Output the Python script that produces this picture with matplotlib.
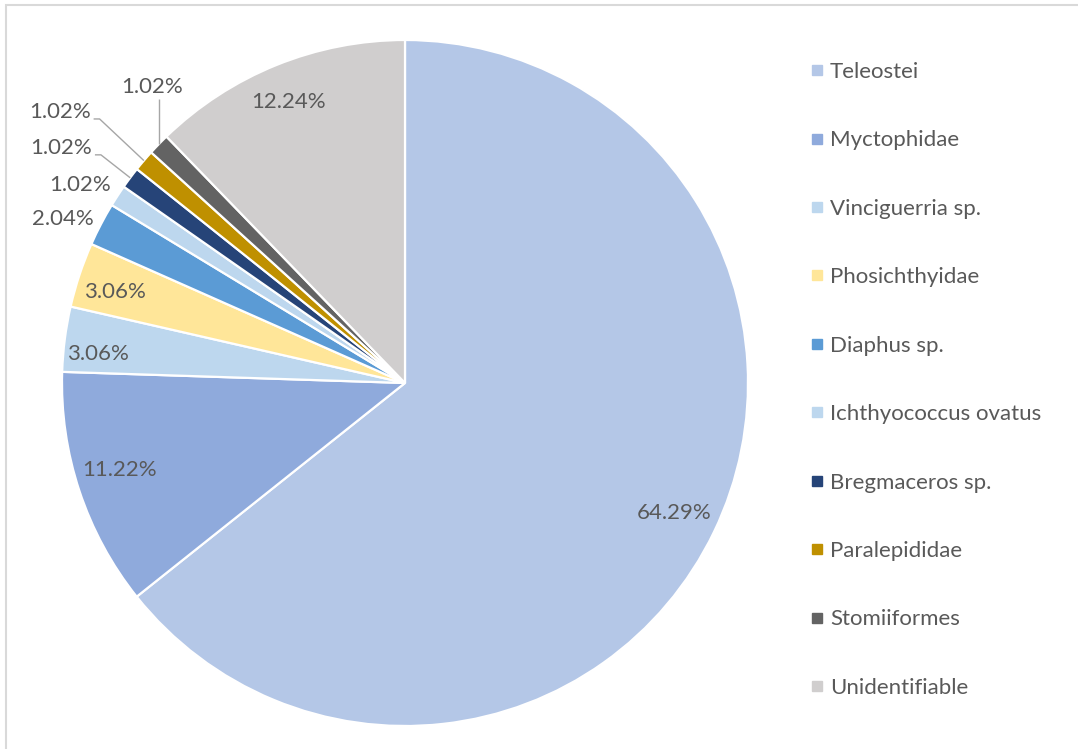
import numpy as np
import matplotlib
matplotlib.use("Agg")
import matplotlib.pyplot as plt
from matplotlib.lines import Line2D
from matplotlib.patches import Rectangle

# prey categories and their share of the diet (%)
taxa = ["Teleostei", "Myctophidae", "Vinciguerria sp.", "Phosichthyidae",
        "Diaphus sp.", "Ichthyococcus ovatus", "Bregmaceros sp.",
        "Paralepididae", "Stomiiformes", "Unidentifiable"]
shares = [64.29, 11.22, 3.06, 3.06, 2.04, 1.02, 1.02, 1.02, 1.02, 12.24]
colors = ["#B4C7E7", "#8FAADC", "#BDD7EE", "#FFE699", "#5B9BD5",
          "#BDD7EE", "#264478", "#BF9000", "#636363", "#D0CECE"]

TXT = "#595959"
FS = 16
plt.rcParams['font.family'] = ['Lato', 'DejaVu Sans']

W, H = 1078, 749
cx, cy, R = 405, 383, 343  # pie centre and radius in pixels

fig = plt.figure(figsize=(W / 100, H / 100), dpi=100)
ax = fig.add_axes([0, 0, 1, 1])

wedges, _ = ax.pie(shares, colors=colors, startangle=90, counterclock=False,
                   wedgeprops=dict(edgecolor="white", linewidth=1.6))
ax.set_xlim(-cx / R, (W - cx) / R)
ax.set_ylim(-(H - cy) / R, cy / R)
ax.axis("off")

px = 1.0 / R  # one pixel in data units

# label placement: (radius, angle shift in degrees, leader type or None)
placement = [
    (0.87, 0, None), (0.87, -1.4, None), (0.90, 2, None), (0.885, 1, None),
    (1.105, 2, None), (1.11, 1.8, None),
    (1.215, 2.4, "h"), (1.28, 2.3, "h"), (1.135, -5.4, "v"),
    (0.887, 0.5, None),
]

for w, val, (r, shift, lead) in zip(wedges, shares, placement):
    mid = np.deg2rad((w.theta1 + w.theta2) / 2)
    ang = mid + np.deg2rad(shift)
    tx, ty = r * np.cos(ang), r * np.sin(ang)
    ax.text(tx, ty, f"{val:.2f}%", ha="center", va="center",
            fontsize=FS, color=TXT)
    if lead is None:
        continue
    ex, ey = np.cos(mid), np.sin(mid)
    if lead == "h":
        ly = ty - 7 * px
        x0 = tx + 34 * px
        xs = [x0, x0 + 6 * px, ex]
        ys = [ly, ly, ey]
    else:
        xs = [ex, ex]
        ys = [ty - 12 * px, ey]
    ax.plot(xs, ys, color="#A6A6A6", lw=1.0, solid_capstyle="butt")

handles = [Line2D([], [], marker="s", linestyle="", markersize=6.5,
                  markerfacecolor=c, markeredgecolor=c) for c in colors]
leg = fig.legend(handles, taxa, loc="upper left",
                 bbox_to_anchor=(800 / W, 1 - 53 / H), frameon=False,
                 fontsize=FS, labelspacing=2.18, handlelength=0.7,
                 handletextpad=0.25, borderaxespad=0)
for t in leg.get_texts():
    t.set_color(TXT)

# thin chart-area border
fig.patches.append(Rectangle((6 / W, -0.05), 1.2, 1 - 5 / H + 0.05,
                             transform=fig.transFigure, fill=False,
                             edgecolor="#D9D9D9", linewidth=1.5))

fig.savefig("out.png", dpi=100, facecolor="white")
